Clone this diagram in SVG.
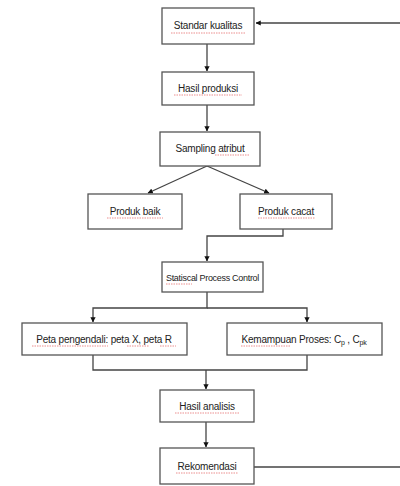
<svg xmlns="http://www.w3.org/2000/svg" width="400" height="486" viewBox="0 0 400 486">
<style>
.box{fill:#fff;stroke:#555;stroke-width:1.3}
.t{font-family:"Liberation Sans",Arial,sans-serif;font-size:10px;fill:#222;text-anchor:middle;letter-spacing:-0.2px}
.c{fill:none;stroke:#444;stroke-width:1.3}
.sp{fill:none;stroke:#e05050;stroke-width:0.8;stroke-dasharray:1.5 1;opacity:0.8}
</style>
<defs>
<marker id="ah" viewBox="0 0 6 6" refX="5.5" refY="3" markerWidth="4" markerHeight="4" orient="auto">
<path d="M0,0 L6,3 L0,6 z" fill="#111"/>
</marker>
</defs>
<rect width="400" height="486" fill="#fff"/>
<g id="connectors">
<path class="c" d="M207,44 V71" marker-end="url(#ah)"/>
<path class="c" d="M207,105 V131" marker-end="url(#ah)"/>
<path class="c" d="M207,166 L148,193" marker-end="url(#ah)"/>
<path class="c" d="M207,166 L269,193" marker-end="url(#ah)"/>
<path class="c" d="M283,229 V236 H207 V261" marker-end="url(#ah)"/>
<path class="c" d="M207,292 V308 H93 V322" marker-end="url(#ah)"/>
<path class="c" d="M207,308 H307 V322" marker-end="url(#ah)"/>
<path class="c" d="M93,355 V370 H307 V355"/>
<path class="c" d="M206,370 V389" marker-end="url(#ah)"/>
<path class="c" d="M206,422 V447" marker-end="url(#ah)"/>
<path class="c" d="M254,467 H400"/>
<path class="c" d="M400,23 H256" marker-end="url(#ah)"/>
</g>
<g id="standar-kualitas">
<rect class="box" x="162" y="8" width="92" height="36"/>
<text class="t" x="208" y="29">Standar kualitas</text>
<path class="sp" d="M171,33 H245"/>
</g>
<g id="hasil-produksi">
<rect class="box" x="162" y="72" width="92" height="33"/>
<text class="t" x="208" y="92">Hasil produksi</text>
<path class="sp" d="M174,95 H242"/>
</g>
<g id="sampling-atribut">
<rect class="box" x="160" y="132" width="100" height="34"/>
<text class="t" x="210" y="152">Sampling atribut</text>
<path class="sp" d="M215,155 H250"/>
</g>
<g id="produk-baik">
<rect class="box" x="88" y="194" width="94" height="35"/>
<text class="t" x="135" y="215">Produk baik</text>
<path class="sp" d="M107,218 H163"/>
</g>
<g id="produk-cacat">
<rect class="box" x="240" y="194" width="92" height="35"/>
<text class="t" x="286" y="215">Produk cacat</text>
<path class="sp" d="M258,218 H315"/>
</g>
<g id="spc">
<rect class="box" x="162" y="262" width="101" height="30"/>
<text class="t" x="212.5" y="281" style="font-size:9px;letter-spacing:-0.3px">Statiscal Process Control</text>
<path class="sp" d="M166,284 H192"/>
</g>
<g id="peta-pengendali">
<rect class="box" x="22" y="323" width="165" height="32"/>
<text class="t" x="104" y="343">Peta pengendali: peta X, peta R</text>
<path class="sp" d="M32,346 H108 M127,346 H149 M160,346 H176"/>
</g>
<g id="kemampuan-proses">
<rect class="box" x="227" y="323" width="155" height="32"/>
<text class="t" x="304" y="343">Kemampuan Proses: C<tspan font-size="7" dy="2">p</tspan><tspan dy="-2"> , C</tspan><tspan font-size="7" dy="2">pk</tspan></text>
<path class="sp" d="M241,346 H290"/>
</g>
<g id="hasil-analisis">
<rect class="box" x="160" y="390" width="94" height="32"/>
<text class="t" x="207" y="410">Hasil analisis</text>
<path class="sp" d="M175,413 H239"/>
</g>
<g id="rekomendasi">
<rect class="box" x="160" y="448" width="94" height="36"/>
<text class="t" x="207" y="470">Rekomendasi</text>
<path class="sp" d="M176,473 H238"/>
</g>
</svg>
